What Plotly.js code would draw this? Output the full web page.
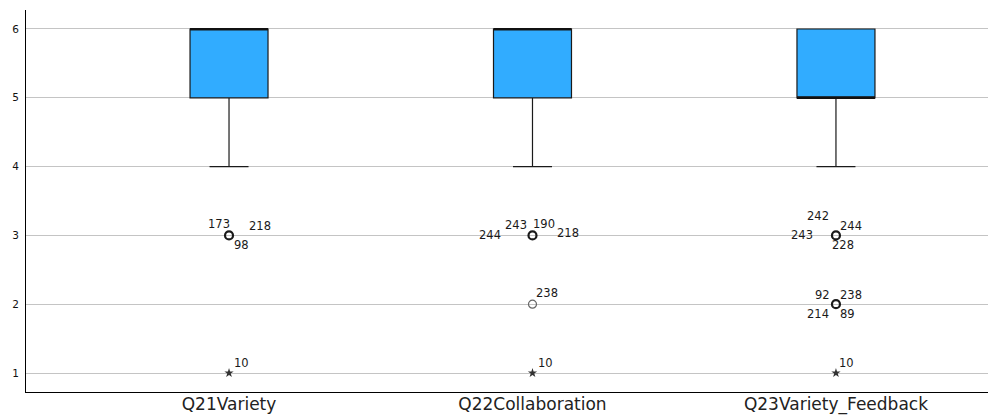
<!DOCTYPE html>
<html>
<head>
<meta charset="utf-8">
<script src="https://cdn.plot.ly/plotly-3.0.1.min.js"></script>
<style>html,body{margin:0;padding:0;background:#fff;}#chart{width:988px;height:417px;}</style>
</head>
<body>
<div id="chart"></div>
<script>
// ---- data ----
const categories = ['Q21Variety', 'Q22Collaboration', 'Q23Variety_Feedback'];
const lowerWhisker = [4, 4, 4];
const q1 = [5, 5, 5];
const medians = [6, 6, 5];
const q3 = [6, 6, 6];
const upperWhisker = [6, 6, 6];

// outliers (circles): category index, value, case number
const outlierCat   = [0, 0, 0,   1, 1, 1, 1,   1,    2, 2, 2, 2,   2, 2, 2, 2];
const outlierValue = [3, 3, 3,   3, 3, 3, 3,   2,    3, 3, 3, 3,   2, 2, 2, 2];
const outlierCase  = ['173', '218', '98',  '244', '243', '190', '218',  '238',
                      '242', '244', '243', '228',  '92', '238', '214', '89'];

// extremes (stars)
const extremeCat   = [0, 1, 2];
const extremeValue = [1, 1, 1];
const extremeCase  = ['10', '10', '10'];

// ---- label placement (pixels, screen offsets relative to marker) ----
const outlierLabelOffset = [
  [-10, -11], [31, -9], [12, 10],
  [-42, 0], [-16, -10], [12, -11], [36, -2],
  [15, -11],
  [-18, -19], [15, -9], [-34, 0], [7, 10],
  [-13, -9], [15, -9], [-18, 10], [12, 10]
];
const extremeLabelOffset = [[12, -10], [13, -10], [11, -10]];

const boxWidth = 0.257;
const xs = categories.map((c, i) => i);

const traces = [];
traces.push({
  type: 'box',
  x: xs,
  q1: q1, median: medians, q3: q3,
  lowerfence: lowerWhisker, upperfence: upperWhisker,
  width: boxWidth,
  whiskerwidth: 0.5,
  boxpoints: false,
  fillcolor: '#31acff',
  line: {color: '#1a1a1a', width: 1.2},
  hoverinfo: 'skip',
  showlegend: false
});

// thick median lines
const mx = [], my = [];
medians.forEach((m, i) => { mx.push(i - boxWidth / 2, i + boxWidth / 2, null); my.push(m, m, null); });
traces.push({type: 'scatter', mode: 'lines', x: mx, y: my,
  line: {color: '#111', width: 2.2}, hoverinfo: 'skip', showlegend: false});

// outlier markers grouped by position
const groups = {};
outlierCat.forEach((c, k) => {
  const key = c + '_' + outlierValue[k];
  groups[key] = groups[key] || {x: c, y: outlierValue[k], n: 0};
  groups[key].n++;
});
const g = Object.values(groups);
const multi = g.filter(d => d.n > 1), single = g.filter(d => d.n === 1);
traces.push({type: 'scatter', mode: 'markers', x: multi.map(d => d.x), y: multi.map(d => d.y),
  marker: {symbol: 'circle-open', size: 8, color: '#1a1a1a', line: {width: 2.2}},
  hoverinfo: 'skip', showlegend: false});
traces.push({type: 'scatter', mode: 'markers', x: single.map(d => d.x), y: single.map(d => d.y),
  marker: {symbol: 'circle-open', size: 8, color: '#666', line: {width: 1.2}},
  hoverinfo: 'skip', showlegend: false});
traces.push({type: 'scatter', mode: 'markers', x: extremeCat, y: extremeValue,
  marker: {symbol: 'star', size: 7, color: '#333'},
  hoverinfo: 'skip', showlegend: false});

const labelFont = {family: 'DejaVu Sans', size: 11.5, color: '#1a1a1a'};
const annotations = [];
outlierCase.forEach((t, k) => {
  annotations.push({x: outlierCat[k], y: outlierValue[k], text: t, showarrow: false,
    xshift: outlierLabelOffset[k][0], yshift: -outlierLabelOffset[k][1], font: labelFont});
});
extremeCase.forEach((t, k) => {
  annotations.push({x: extremeCat[k], y: extremeValue[k], text: t, showarrow: false,
    xshift: extremeLabelOffset[k][0], yshift: -extremeLabelOffset[k][1], font: labelFont});
});

const layout = {
  width: 988, height: 417,
  margin: {l: 26, r: 0, t: 10, b: 25},
  paper_bgcolor: '#fff', plot_bgcolor: '#fff',
  showlegend: false,
  xaxis: {
    range: [-0.669, 2.501],
    tickvals: xs, ticktext: categories,
    showgrid: false, zeroline: false,
    showline: true, linecolor: '#000', linewidth: 1,
    ticks: '',
    ticklabelstandoff: -3,
    tickfont: {family: 'DejaVu Sans', size: 17, color: '#222'}
  },
  yaxis: {
    range: [0.724, 6.276],
    tickvals: [1, 2, 3, 4, 5, 6],
    showgrid: true, gridcolor: '#c4c4c4', gridwidth: 1,
    zeroline: false,
    showline: true, linecolor: '#000', linewidth: 1,
    ticks: '',
    ticklabelstandoff: 4,
    tickfont: {family: 'DejaVu Sans', size: 10.5, color: '#111'}
  },
  annotations: annotations
};

Plotly.newPlot('chart', traces, layout, {staticPlot: true, displayModeBar: false});
</script>
</body>
</html>
